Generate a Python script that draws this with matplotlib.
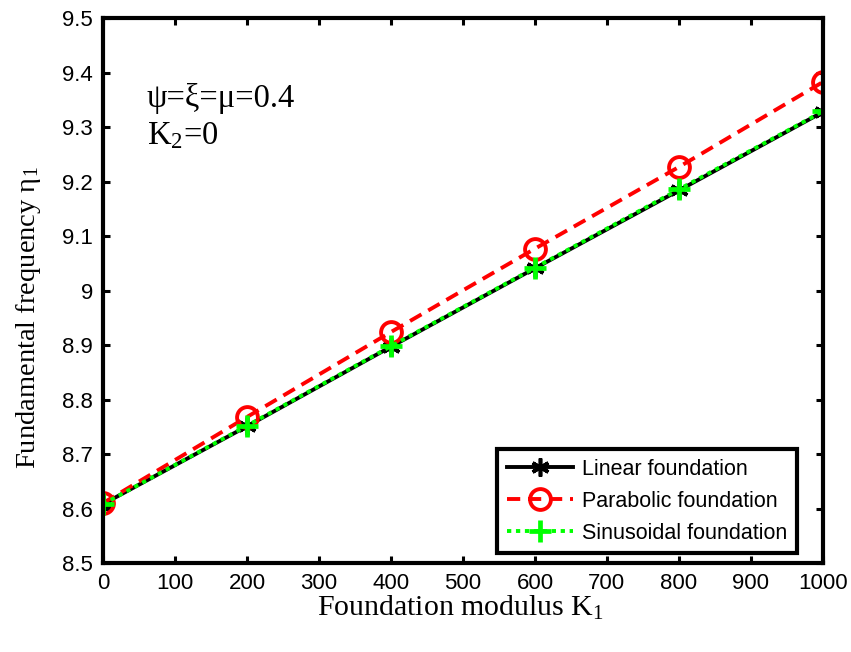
import numpy as np
import matplotlib
matplotlib.use('Agg')
import matplotlib.pyplot as plt

# ── Data ─────────────────────────────────────────────────────────────────────
K1          = [0, 200, 400, 600, 800, 1000]
linear      = [8.608, 8.751, 8.897, 9.041, 9.184, 9.328]
parabolic   = [8.610, 8.768, 8.924, 9.077, 9.227, 9.383]
sinusoidal  = [8.608, 8.752, 8.898, 9.042, 9.186, 9.329]

xticks = np.arange(0, 1001, 100)
yticks = np.round(np.arange(8.5, 9.501, 0.1), 1)
ytick_labels = ['8.5', '8.6', '8.7', '8.8', '8.9', '9', '9.1', '9.2', '9.3', '9.4', '9.5']

# ── Style ────────────────────────────────────────────────────────────────────
plt.rcParams['font.family'] = ['Liberation Sans', 'DejaVu Sans']
plt.rcParams['mathtext.fontset'] = 'custom'
plt.rcParams['mathtext.rm'] = 'Liberation Serif'
plt.rcParams['mathtext.it'] = 'Liberation Serif:italic'
SERIF = ['Liberation Serif', 'DejaVu Serif']

fig = plt.figure(figsize=(8.51, 6.52), dpi=100)
ax = fig.add_axes([0.121, 0.1365, 0.846, 0.8355])

ax.plot(K1, linear, color='black', lw=2.8, ls='-',
        marker=(6, 2, 0), ms=13, mew=2.6, mec='black', label='Linear foundation')
ax.plot(K1, parabolic, color='red', lw=2.8, ls=(0, (3.4, 2.0)),
        marker='o', ms=15, mfc='none', mec='red', mew=2.8, label='Parabolic foundation')
ax.plot(K1, sinusoidal, color='#00ff00', lw=2.8, ls=(0, (1.1, 1.2)),
        marker='+', ms=16, mew=3.4, mec='#00ff00', label='Sinusoidal foundation')

ax.set_xlim(0, 1000)
ax.set_ylim(8.5, 9.5)
ax.set_xticks(xticks)
ax.set_yticks(yticks)
ax.set_yticklabels(ytick_labels)
ax.tick_params(direction='in', length=5, width=2.2, labelsize=16,
               top=True, right=True, pad=7)
for sp in ax.spines.values():
    sp.set_linewidth(3)

ax.set_xlabel('Foundation modulus K$_1$', fontsize=21.5, family=SERIF)
ax.xaxis.set_label_coords(0.497, -0.082, transform=ax.transAxes)
ax.xaxis.label.set_va('center')
ax.set_ylabel('Fundamental frequency η$_1$', fontsize=20.5, family=SERIF)
ax.yaxis.set_label_coords(-0.104, 0.45, transform=ax.transAxes)
ax.yaxis.label.set_va('center')

ax.text(61, 9.352, 'ψ=ξ=μ=0.4', fontsize=23.5, family=SERIF, va='center')
ax.text(61, 9.284, 'K$_2$=0', fontsize=23.5, family=SERIF, va='center')

leg = ax.legend(loc='lower right', bbox_to_anchor=(0.964, 0.018), fontsize=15.5,
                frameon=True, fancybox=False, edgecolor='black', framealpha=1,
                handlelength=3.1, borderpad=0.45, labelspacing=0.5,
                handletextpad=0.4, borderaxespad=0)
leg.get_frame().set_linewidth(3)

fig.savefig('out.png', dpi=100)
